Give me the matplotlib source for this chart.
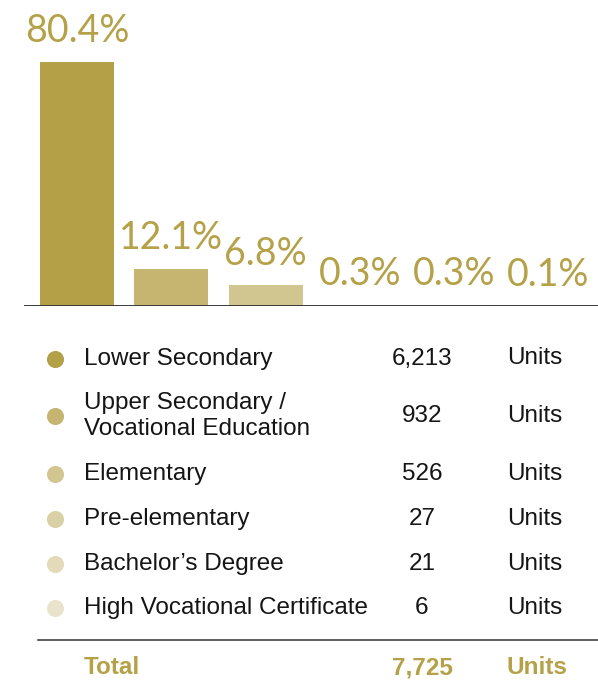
import numpy as np
import matplotlib
matplotlib.use('Agg')
import matplotlib.pyplot as plt

# data
categories = ['Lower Secondary', 'Upper Secondary /\nVocational Education', 'Elementary',
              'Pre-elementary', 'Bachelor\u2019s Degree', 'High Vocational Certificate']
shares = [80.4, 12.1, 6.8, 0.3, 0.3, 0.1]
units = [6213, 932, 526, 27, 21, 6]
total_units = 7725
colors = ['#B4A046', '#C5B571', '#D2C690', '#DAD0A6', '#E2DAB8', '#E9E3CB']
gold = '#B4A148'

W, H = 598, 688
fig = plt.figure(figsize=(W / 100, H / 100), dpi=100)

# bar panel, baseline at y=306 px
base_y = 306
ax = fig.add_axes([24 / W, 1 - base_y / H, (W - 24) / W, base_y / H])
x = np.arange(len(shares))
step = 94.3
ax.bar(x, shares, width=74 / step, color=colors, zorder=1)
ax.set_xlim(-53 / step, -53 / step + (W - 24) / step)
ax.set_ylim(0, 80.4 * base_y / 244)
ax.axhline(0, color='#3a3a3a', lw=1.4, zorder=3)
for xi, v in zip(x, shares):
    ax.annotate('%.1f%%' % v, (xi, v), xytext=(0, 14.4), textcoords='offset points',
                ha='center', va='baseline', fontsize=27, color=gold, family='Lato')
ax.axis('off')

# table below, drawn in pixel coordinates
tx = fig.add_axes([0, 0, 1, 1])
tx.set_xlim(0, W)
tx.set_ylim(H, 0)
tx.axis('off')
tx.patch.set_alpha(0)

fs = 17.5
font = 'Liberation Sans'
ink = '#151515'
y = 364.5
for lab, n, c in zip(categories, units, colors):
    lines = lab.split('\n')
    ys = [y + 26 * k for k in range(len(lines))]
    for ln, yy in zip(lines, ys):
        tx.text(84, yy, ln, fontsize=fs, family=font, color=ink, va='baseline', ha='left')
    mid = np.mean(ys)
    tx.plot(55, mid - 6, 'o', ms=12.3, color=c, mec='none')
    tx.text(422, mid, '{:,}'.format(n), fontsize=fs, family=font, color=ink,
            va='baseline', ha='center')
    tx.text(507, mid, 'Units', fontsize=fs, family=font, color=ink, va='baseline', ha='left')
    y = ys[-1] + 44.8

tx.plot([38, W], [640, 640], color='#333333', lw=1.1)
tx.text(84, 674, 'Total', fontsize=fs, family=font, weight='bold', color=gold, va='baseline')
tx.text(422, 674, '{:,}'.format(total_units), fontsize=fs, family=font, weight='bold',
        color=gold, va='baseline', ha='center')
tx.text(507, 674, 'Units', fontsize=fs, family=font, weight='bold', color=gold, va='baseline')

fig.savefig('out.png', dpi=100)
